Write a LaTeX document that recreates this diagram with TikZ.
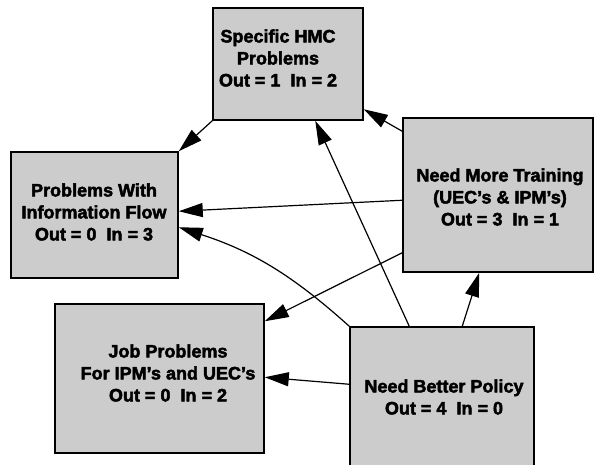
\documentclass[tikz,border=0pt]{standalone}
\usepackage{fontspec}
\setmainfont{Liberation Sans}[BoldFeatures={FakeBold=2.5}]
\usetikzlibrary{arrows.meta,calc}

\tikzset{
  issue/.style={draw=black, line width=1.5pt, fill=black!20, inner sep=0pt},
  caption/.style={align=center, inner sep=0pt,
    font=\bfseries\fontsize{18}{22}\selectfont},
  link/.style={line width=1.2pt, -{Triangle[length=24pt,width=14pt]}},
}

\begin{document}
\begin{tikzpicture}[x=1pt, y=-1pt]
  \clip (0,0) rectangle (595,464);

  % issue boxes
  \node[issue, minimum width=150pt, minimum height=112pt] (hmc)    at (288,64)    {};
  \node[issue, minimum width=167pt, minimum height=126pt] (info)   at (94.5,215)  {};
  \node[issue, minimum width=190pt, minimum height=154pt] (train)  at (498,195)   {};
  \node[issue, minimum width=209pt, minimum height=149pt] (job)    at (159.5,378.5) {};
  \node[issue, minimum width=184pt, minimum height=143pt] (policy) at (442,398.5) {};

  % box texts
  \node[caption] (hmctext)    at (278,58)  {Specific HMC\\Problems\\Out = 1\ \ In = 2};
  \node[caption] (infotext)   at (94,212)  {Problems With\\Information Flow\\Out = 0\ \ In = 3};
  \node[caption] (traintext)  at (500,197) {Need More Training\\(UEC's \& IPM's)\\Out = 3\ \ In = 1};
  \node[caption] (jobtext)    at (168,373) {Job Problems\\For IPM's and UEC's\\Out = 0\ \ In = 2};
  \node[caption] (policytext) at (444,397) {Need Better Policy\\Out = 4\ \ In = 0};

  % influences
  \draw[link] (hmc.south west) -- (info.north east);
  \draw[link] ($(train.north west)+(0,14)$) -- ($(hmc.north east)+(0,102)$);
  \draw[link] ($(train.north west)+(0,83)$) -- ($(info.north east)+(0,60)$);
  \draw[link] (policy.north west) to[out=138,in=-18] ($(info.north east)+(0,76)$);
  \draw[link] ($(policy.north west)+(60,0)$) -- ($(hmc.south west)+(103,0)$);
  \draw[link] ($(policy.north west)+(113,0)$) -- ($(train.south west)+(77,0)$);
  \draw[link] ($(train.south west)+(0,-20)$) -- ($(job.north east)+(0,18)$);
  \draw[link] ($(policy.north west)+(0,58)$) -- ($(job.north east)+(0,74)$);
\end{tikzpicture}
\end{document}
